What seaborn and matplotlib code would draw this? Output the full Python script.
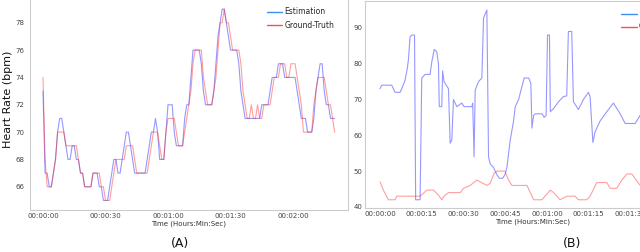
import numpy as np
import pandas as pd
import matplotlib
matplotlib.use("Agg")
import matplotlib.pyplot as plt
from matplotlib.ticker import FuncFormatter
from matplotlib.lines import Line2D
import seaborn as sns

# ---------------- Data: panel (A) ----------------
time_a = list(range(0, 141))  # seconds
truth_a = [74, 68, 66, 66, 66, 67, 68, 70, 70, 70,
           70, 69, 69, 69, 69, 69, 69, 68, 67, 67,
           66, 66, 66, 66, 67, 67, 67, 67, 66, 66,
           65, 65, 65, 66, 67, 68, 68, 68, 68, 68,
           69, 69, 69, 69, 68, 67, 67, 67, 67, 67,
           67, 68, 69, 70, 70, 70, 69, 68, 68, 70,
           71, 71, 71, 71, 70, 69, 69, 69, 70, 71,
           72, 73, 75, 76, 76, 76, 76, 74, 73, 72,
           72, 72, 73, 74, 76, 78, 78, 79, 78, 78,
           77, 76, 76, 76, 76, 75, 73, 72, 71, 71,
           72, 71, 71, 72, 71, 71, 72, 72, 72, 72,
           73, 74, 74, 74, 75, 75, 75, 74, 74, 75,
           75, 75, 74, 73, 72, 70, 70, 70, 70, 70,
           72, 73, 74, 74, 74, 74, 73, 72, 72, 71,
           70]
est_a = [73, 67, 67, 66, 66, 67, 68, 70, 71, 71,
         70, 69, 68, 68, 69, 69, 68, 68, 67, 67,
         66, 66, 66, 66, 67, 67, 67, 66, 66, 65,
         65, 65, 66, 67, 68, 68, 67, 67, 68, 69,
         70, 70, 69, 68, 67, 67, 67, 67, 67, 67,
         68, 69, 70, 70, 71, 70, 68, 68, 68, 70,
         72, 72, 72, 70, 69, 69, 69, 69, 71, 72,
         72, 74, 76, 76, 76, 76, 75, 73, 72, 72,
         72, 72, 73, 75, 77, 78, 79, 79, 78, 77,
         76, 76, 76, 76, 75, 73, 72, 71, 71, 71,
         71, 71, 71, 71, 71, 72, 72, 72, 72, 73,
         74, 74, 74, 75, 75, 75, 74, 74, 74, 74,
         74, 74, 73, 72, 71, 71, 71, 70, 70, 70,
         71, 73, 74, 75, 75, 73, 72, 72, 71, 71,
         71]

# ---------------- Data: panel (B) ----------------
time_b_est = [0, 0.6, 4.2, 5.4, 7.2, 7.8, 9.0, 9.8, 10.2, 10.8, 11.4, 12.4, 12.8, 14.4,
              15.0, 16.2, 18.0, 18.6, 19.5, 20.4, 21.0, 21.3, 22.2, 22.5, 23.0, 24.6,
              25.2, 25.8, 26.4, 27.6, 29.4, 30.2, 33.0, 33.3, 33.8, 34.2, 35.4, 36.6,
              37.2, 38.4, 39.0, 39.6, 40.8, 42.0, 42.9, 44.1, 44.9, 45.6, 46.8, 48.0,
              48.6, 49.8, 51.0, 51.8, 53.4, 54.2, 54.6, 55.2, 55.8, 58.2, 59.0, 59.7,
              60.2, 60.9, 61.2, 62.4, 64.2, 65.9, 67.1, 67.7, 68.9, 69.5, 71.3, 73.1,
              74.9, 75.5, 76.5, 77.3, 79.1, 81.5, 83.9, 86.3, 88.1, 91.7, 93.5, 95.0]
est_b = [73, 74, 74, 72, 72, 73, 75.4, 78.7, 81, 87.5, 88, 88, 42, 42,
         76, 77, 77, 80.5, 84, 83.3, 80, 68, 68, 78, 75, 73,
         57.8, 58.7, 70, 68, 69, 68, 68, 69, 54, 72.6, 75, 76,
         92.7, 95, 54, 52, 51, 49, 48, 48, 49, 51, 58.7, 64,
         68, 70, 73.6, 76, 76, 74.5, 62, 65.6, 66, 66, 65, 65.6,
         88, 88, 66.6, 67.5, 69.4, 70.8, 71, 89, 89, 69.4, 67.2, 70,
         72, 70.8, 58, 61, 64, 66.6, 69, 66, 63.3, 63.3, 65.6, 67]
time_b_truth = [0, 1.2, 3.0, 5.4, 6.0, 14.4, 15.6, 16.8, 19.2, 21.0, 22.2, 23.0, 24.6,
                28.8, 30.0, 32.4, 34.8, 36.0, 38.4, 39.6, 41.0, 42.0, 44.9, 46.2, 47.4,
                52.8, 55.2, 58.2, 61.2, 62.4, 64.7, 67.1, 70.1, 71.3, 74.3, 75.5, 77.9,
                81.5, 82.7, 85.1, 86.9, 88.7, 90.5, 93.5]
truth_b = [47, 44.7, 42, 42, 43, 43, 43.8, 44.7, 44.7, 43.3, 42, 43, 44,
           44, 45.2, 46, 47.5, 47, 46, 46.6, 49.4, 50, 50, 47.5, 46,
           46, 42, 42, 44.7, 44, 42, 43, 43, 42, 42, 43, 46.8,
           46.8, 45.2, 45.2, 47.5, 49.2, 49.2, 46]

ticks_a = [0, 30, 60, 90, 120]
ticks_b = [0, 15, 30, 45, 60, 75, 90]
yticks_a = [66, 68, 70, 72, 74, 76, 78]
yticks_b = [40, 50, 60, 70, 80, 90]

# ---------------- Style ----------------
sns.set_theme(style="white")
plt.rcParams["font.family"] = ["DejaVu Sans"]
plt.rcParams["axes.edgecolor"] = "#cccccc"
plt.rcParams["axes.linewidth"] = 0.8

def hms(x, pos=None):
    x = int(round(x))
    return "%02d:%02d:%02d" % (x // 3600, (x % 3600) // 60, x % 60)

fig = plt.figure(figsize=(6.4, 2.52), dpi=100)

# panel A
axA = fig.add_axes([30 / 640, 1 - 210 / 252, 318 / 640, 221.4 / 252])
dfA = pd.DataFrame({"t": time_a * 2,
                    "hr": est_a + truth_a,
                    "src": ["Estimation"] * len(time_a) + ["Ground-Truth"] * len(time_a)})
sns.lineplot(data=dfA, x="t", y="hr", hue="src",
             palette={"Estimation": "#1a1aff", "Ground-Truth": "#ff2a2a"},
             alpha=0.45, linewidth=0.8, ax=axA, legend=False)
axA.set_xlim(-6.24, 146.4)
axA.set_ylim(64.3, 80.5)
axA.set_xticks(ticks_a)
axA.set_yticks(yticks_a)
axA.xaxis.set_major_formatter(FuncFormatter(hms))
axA.tick_params(axis="both", labelsize=5, colors="#444444", length=0)
axA.tick_params(axis="y", pad=4)
axA.tick_params(axis="x", pad=2)
axA.set_xlabel("Time (Hours:Min:Sec)", fontsize=5, color="#333333", labelpad=1)
axA.set_ylabel("Heart Rate (bpm)", fontsize=8, color="#111111", labelpad=1.5)
hA = [Line2D([], [], color="#3d8ef5", lw=1.0), Line2D([], [], color="#ff4d4d", lw=1.0)]
axA.legend(hA, ["Estimation", "Ground-Truth"], loc="upper left",
           bbox_to_anchor=(0.745, 0.915), frameon=False, fontsize=5.5,
           borderaxespad=0, borderpad=0, handlelength=2.0, handletextpad=0.3,
           labelspacing=0.55)

# panel B
axB = fig.add_axes([365 / 640, 1 - 208 / 252, 335 / 640, 207 / 252])
dfB = pd.DataFrame({"t": time_b_est + time_b_truth,
                    "hr": est_b + truth_b,
                    "src": ["DeepPhys"] * len(time_b_est) + ["Ground-Truth"] * len(time_b_truth)})
sns.lineplot(data=dfB, x="t", y="hr", hue="src",
             palette={"DeepPhys": "#1a1aff", "Ground-Truth": "#ff2a2a"},
             alpha=0.45, linewidth=0.8, ax=axB, legend=False)
axB.set_xlim(-5.4, 115)
axB.set_ylim(39.7, 97.5)
axB.set_xticks(ticks_b)
axB.set_yticks(yticks_b)
axB.xaxis.set_major_formatter(FuncFormatter(hms))
axB.tick_params(axis="both", labelsize=5, colors="#444444", length=0)
axB.tick_params(axis="y", pad=2)
axB.tick_params(axis="x", pad=2)
axB.set_xlabel("Time (Hours:Min:Sec)", fontsize=5, color="#333333", labelpad=1)
axB.set_ylabel("")
hB = [Line2D([], [], color="#3d8ef5", lw=1.0), Line2D([], [], color="#ff4d4d", lw=1.0)]
axB.legend(hB, ["DeepPhys", "Ground-Truth"], loc="upper left",
           bbox_to_anchor=(0.765, 0.96), frameon=False, fontsize=5.5,
           borderaxespad=0, borderpad=0, handlelength=2.0, handletextpad=0.3,
           labelspacing=0.55)

fig.text(180 / 640, 1 - 243 / 252, "(A)", fontsize=9, ha="center", va="center", color="#111111")
fig.text(572 / 640, 1 - 243 / 252, "(B)", fontsize=9, ha="center", va="center", color="#111111")

fig.savefig("out.png", dpi=100)
